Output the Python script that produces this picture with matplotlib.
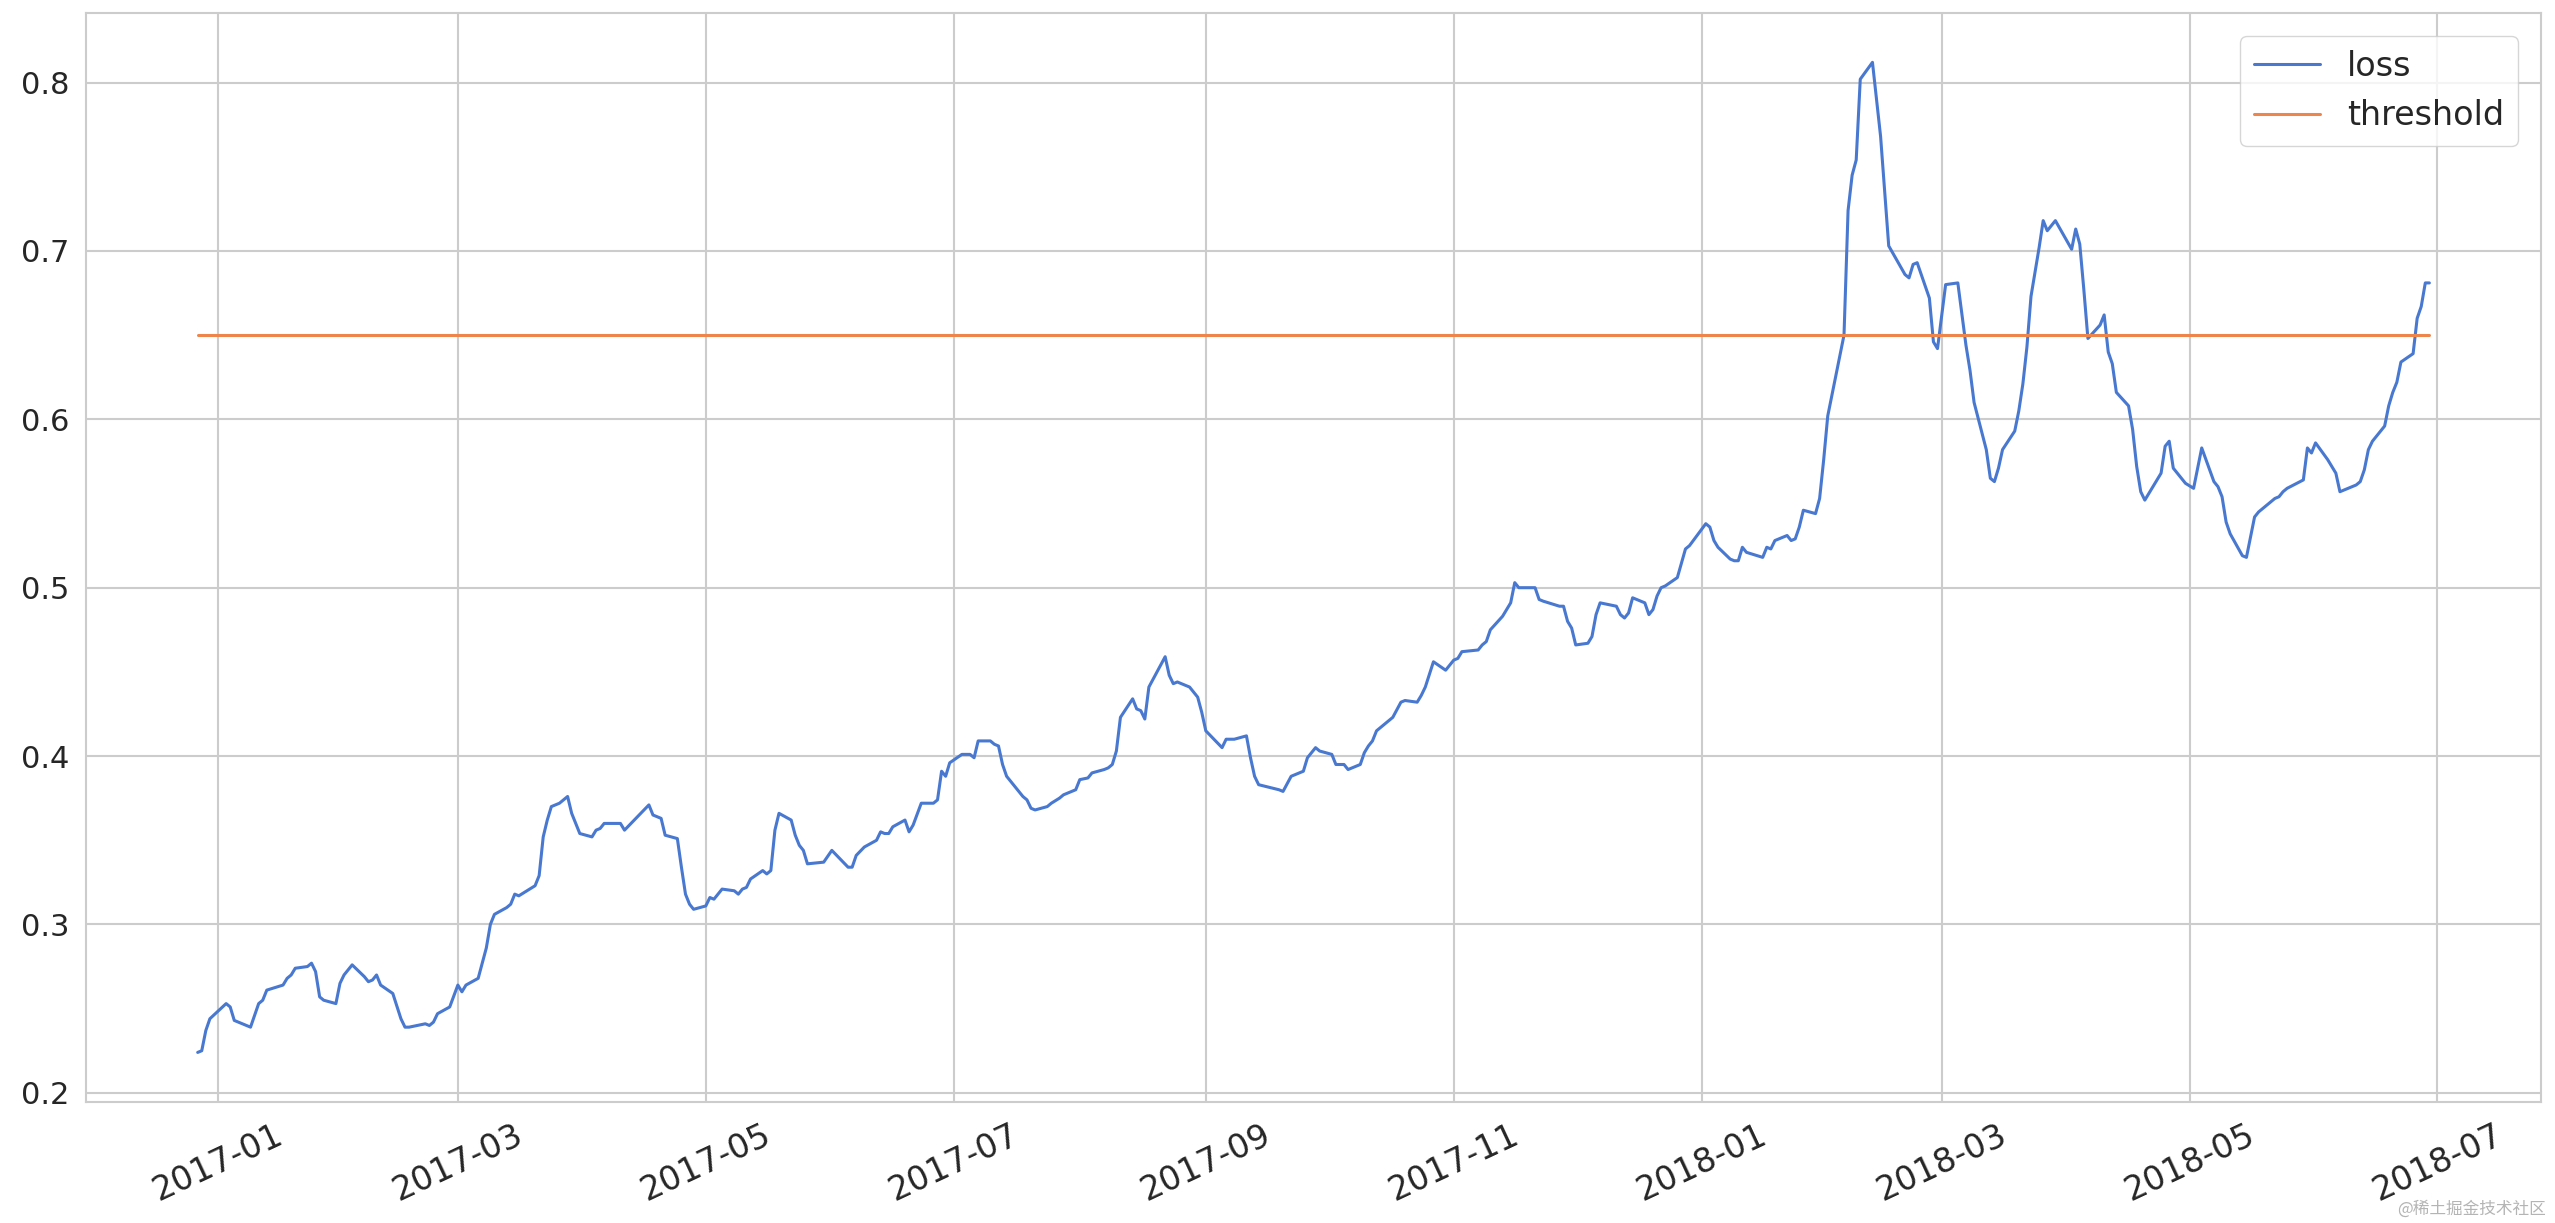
import matplotlib
matplotlib.use("Agg")
import matplotlib.pyplot as plt
import matplotlib.dates as mdates
import seaborn as sns
import pandas as pd

# ------------------------------------------------------------
# loss series (days after 2017-01-01, value)
base_date = "2017-01-01"
loss_days = [
    -5, -4, -3, -2, 2, 3, 4, 8, 10, 11, 12, 16, 17, 18, 19, 22, 23, 24, 25, 26,
    29, 30, 31, 33, 36, 37, 38, 39, 40, 43, 45, 46, 47, 51, 52, 53, 54, 57, 59, 60,
    61, 64, 66, 67, 68, 71, 72, 73, 74, 78, 79, 80, 81, 82, 84, 86, 87, 89, 92, 93,
    94, 95, 99, 100, 106, 107, 108, 109, 110, 113, 114, 115, 116, 117, 120, 121, 122, 124, 127, 128,
    129, 130, 131, 134, 135, 136, 137, 138, 141, 142, 143, 144, 145, 149, 151, 155, 156, 157, 159, 162,
    163, 164, 165, 166, 169, 170, 171, 173, 176, 177, 178, 179, 180, 183, 185, 186, 187, 190, 191, 192,
    193, 194, 198, 199, 200, 201, 204, 205, 207, 208, 211, 212, 214, 215, 218, 219, 220, 221, 222, 225,
    226, 227, 228, 229, 233, 234, 235, 236, 239, 240, 241, 242, 243, 247, 248, 250, 253, 254, 255, 256,
    261, 262, 264, 265, 267, 268, 270, 271, 274, 275, 277, 278, 281, 282, 283, 284, 285, 289, 291, 292,
    295, 296, 297, 299, 302, 304, 305, 306, 310, 311, 312, 313, 316, 317, 318, 319, 320, 324, 325, 326,
    330, 331, 332, 333, 334, 337, 338, 339, 340, 344, 345, 346, 347, 348, 351, 352, 353, 354, 355, 356,
    359, 361, 362, 366, 367, 368, 369, 372, 373, 374, 375, 376, 380, 381, 382, 383, 386, 387, 388, 389,
    390, 393, 394, 395, 396, 397, 400, 401, 402, 403, 404, 407, 409, 411, 415, 416, 417, 418, 421, 422,
    423, 425, 428, 430, 431, 432, 435, 436, 437, 438, 439, 442, 443, 444, 445, 446, 448, 449, 450, 452,
    456, 457, 458, 459, 460, 463, 464, 465, 466, 467, 470, 471, 472, 473, 474, 478, 479, 480, 481, 484,
    486, 488, 491, 492, 493, 494, 495, 498, 499, 501, 502, 505, 506, 507, 508, 509, 513, 514, 515, 516,
    519, 521, 522, 526, 527, 528, 529, 530, 533, 534, 535, 536, 537, 540, 541, 542, 543, 544,
]
loss_values = [
    0.224, 0.225, 0.237, 0.244, 0.253, 0.251, 0.243, 0.239, 0.253, 0.255, 0.261, 0.264, 0.268, 0.270, 0.274, 0.275, 0.277, 0.272, 0.257, 0.255,
    0.253, 0.265, 0.270, 0.276, 0.269, 0.266, 0.267, 0.270, 0.264, 0.259, 0.244, 0.239, 0.239, 0.241, 0.240, 0.242, 0.247, 0.251, 0.264, 0.260,
    0.264, 0.268, 0.286, 0.300, 0.306, 0.310, 0.312, 0.318, 0.317, 0.323, 0.329, 0.352, 0.362, 0.370, 0.372, 0.376, 0.366, 0.354, 0.352, 0.356,
    0.357, 0.360, 0.360, 0.356, 0.371, 0.365, 0.364, 0.363, 0.353, 0.351, 0.334, 0.318, 0.312, 0.309, 0.311, 0.316, 0.315, 0.321, 0.320, 0.318,
    0.321, 0.322, 0.327, 0.332, 0.330, 0.332, 0.356, 0.366, 0.362, 0.353, 0.347, 0.344, 0.336, 0.337, 0.344, 0.334, 0.334, 0.341, 0.346, 0.350,
    0.355, 0.354, 0.354, 0.358, 0.362, 0.355, 0.359, 0.372, 0.372, 0.374, 0.391, 0.388, 0.396, 0.401, 0.401, 0.399, 0.409, 0.409, 0.407, 0.406,
    0.395, 0.388, 0.376, 0.374, 0.369, 0.368, 0.370, 0.372, 0.375, 0.377, 0.380, 0.386, 0.387, 0.390, 0.392, 0.393, 0.395, 0.403, 0.423, 0.434,
    0.428, 0.427, 0.422, 0.441, 0.459, 0.448, 0.443, 0.444, 0.441, 0.438, 0.435, 0.426, 0.415, 0.405, 0.410, 0.410, 0.412, 0.399, 0.388, 0.383,
    0.380, 0.379, 0.388, 0.389, 0.391, 0.399, 0.405, 0.403, 0.401, 0.395, 0.395, 0.392, 0.395, 0.402, 0.406, 0.409, 0.415, 0.423, 0.432, 0.433,
    0.432, 0.436, 0.441, 0.456, 0.451, 0.457, 0.458, 0.462, 0.463, 0.466, 0.468, 0.475, 0.483, 0.487, 0.491, 0.503, 0.500, 0.500, 0.493, 0.492,
    0.489, 0.489, 0.480, 0.476, 0.466, 0.467, 0.471, 0.484, 0.491, 0.489, 0.484, 0.482, 0.485, 0.494, 0.491, 0.484, 0.487, 0.495, 0.500, 0.501,
    0.506, 0.523, 0.525, 0.538, 0.536, 0.528, 0.524, 0.517, 0.516, 0.516, 0.524, 0.521, 0.518, 0.524, 0.523, 0.528, 0.531, 0.528, 0.529, 0.536,
    0.546, 0.544, 0.553, 0.576, 0.602, 0.614, 0.650, 0.724, 0.745, 0.754, 0.802, 0.812, 0.768, 0.703, 0.686, 0.684, 0.692, 0.693, 0.672, 0.646,
    0.642, 0.680, 0.681, 0.644, 0.629, 0.610, 0.582, 0.565, 0.563, 0.571, 0.582, 0.593, 0.605, 0.621, 0.643, 0.673, 0.702, 0.718, 0.712, 0.718,
    0.701, 0.713, 0.704, 0.677, 0.648, 0.656, 0.662, 0.640, 0.633, 0.616, 0.608, 0.594, 0.572, 0.557, 0.552, 0.568, 0.584, 0.587, 0.571, 0.562,
    0.559, 0.583, 0.563, 0.560, 0.554, 0.539, 0.532, 0.519, 0.518, 0.542, 0.545, 0.551, 0.553, 0.554, 0.557, 0.559, 0.564, 0.583, 0.580, 0.586,
    0.576, 0.568, 0.557, 0.561, 0.563, 0.570, 0.582, 0.587, 0.596, 0.608, 0.616, 0.622, 0.634, 0.639, 0.660, 0.667, 0.681, 0.681,
]
threshold = 0.65
# ------------------------------------------------------------

dates = pd.to_datetime(base_date) + pd.to_timedelta(loss_days, unit="D")

sns.set_theme(style="whitegrid", palette="muted")
plt.rcParams["font.family"] = ["DejaVu Sans", "Noto Sans CJK SC"]
plt.rcParams["grid.linewidth"] = 1.5
plt.rcParams["axes.linewidth"] = 1.5

fig = plt.figure(figsize=(25.55, 12.23), dpi=100)
ax = fig.add_axes([0.0337, 0.099, 0.9608, 0.8905])

ax.plot(dates, loss_values, label="loss", linewidth=2.2)
ax.plot(dates, [threshold] * len(dates), label="threshold", linewidth=2.2)

ax.xaxis.set_major_locator(mdates.MonthLocator(bymonth=[1, 3, 5, 7, 9, 11]))
ax.xaxis.set_major_formatter(mdates.DateFormatter("%Y-%m"))
ax.tick_params(axis="y", labelsize=22, pad=6)
ax.tick_params(axis="x", labelsize=24, pad=6)
plt.setp(ax.get_xticklabels(), rotation=25)

ax.legend(loc="upper right", fontsize=24, borderaxespad=0.7)

fig.text(0.9965, 0.004, "@稀土掘金技术社区", ha="right", va="bottom",
         fontsize=12, color="#b4b4b4", family=["Noto Sans CJK SC", "DejaVu Sans"])

fig.savefig("out.png", dpi=100)
